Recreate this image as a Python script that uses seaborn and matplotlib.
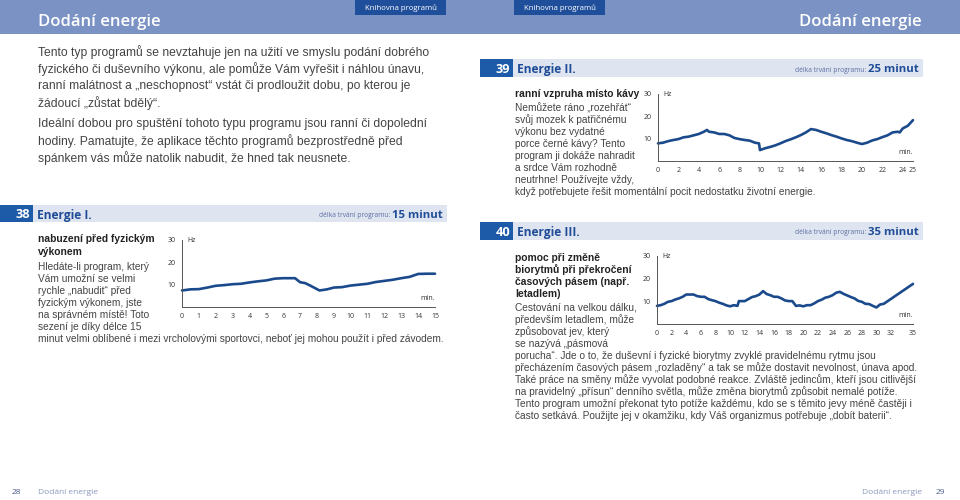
import pandas as pd
import seaborn as sns
import matplotlib.pyplot as plt
from matplotlib.patches import Rectangle
from matplotlib.ticker import MultipleLocator

# ---------------------------------------------------------------- data
# Energie I. (15 minut)
e1_min = [0, 0.5, 1, 1.5, 2, 2.5, 3, 3.5, 4, 4.5, 5, 5.5, 6, 6.7, 7, 7.3, 7.6,
          8.15, 8.6, 9, 9.5, 10, 10.5, 11, 11.5, 12, 12.5, 13, 13.5, 14, 14.5, 15]
e1_hz = [7.4, 7.9, 8.0, 8.7, 9.5, 9.8, 10.2, 10.4, 11.0, 11.5, 11.9, 12.7, 12.9,
         12.9, 11.1, 10.7, 9.6, 7.4, 7.9, 8.7, 8.9, 9.6, 10.0, 10.4, 11.2, 11.7,
         12.2, 12.9, 13.5, 14.8, 14.9, 14.9]
e1_ticks = list(range(0, 16))

# Energie II. (25 minut)
e2_min = [0, 0.5, 1, 1.5, 2, 2.5, 3, 3.5, 4, 4.5, 4.8, 5, 5.5, 6, 6.5, 7, 7.5, 8,
          8.5, 9, 9.5, 9.9, 10, 10.5, 11, 11.5, 12, 12.5, 13, 13.5, 14, 14.5, 15,
          15.5, 16, 16.5, 17, 17.5, 18, 18.5, 19, 19.5, 20, 20.5, 21, 21.5, 22,
          22.5, 23, 23.5, 23.7, 24, 24.5, 25]
e2_hz = [7.9, 8.2, 8.9, 9.4, 9.8, 10.6, 10.9, 11.5, 12.1, 13.1, 13.9, 13.1, 12.8,
         12.1, 12.1, 11.5, 10.3, 9.8, 9.4, 9.1, 8.2, 7.9, 4.9, 5.7, 6.3, 7.0, 7.9,
         8.9, 9.7, 10.6, 11.6, 12.8, 14.3, 13.9, 13.1, 12.4, 11.6, 10.9, 10.1, 9.4,
         8.9, 8.2, 7.6, 8.2, 9.2, 9.8, 10.7, 11.5, 12.8, 13.1, 12.8, 14.6, 15.8, 18.3]
e2_ticks = [0, 2, 4, 6, 8, 10, 12, 14, 16, 18, 20, 22, 24, 25]

# Energie III. (35 minut)
e3_min = [0, 0.5, 1, 1.5, 2, 2.5, 3, 3.5, 4, 5, 5.5, 6, 6.5, 7, 7.5, 8, 8.5, 9,
          9.5, 10, 10.5, 11, 11.2, 12, 12.5, 13, 13.5, 14, 14.5, 15, 15.5, 16,
          16.5, 17, 17.5, 18, 18.5, 19, 19.5, 20, 20.5, 21, 21.5, 22, 22.5, 23,
          23.5, 24, 24.5, 25, 25.5, 26, 26.5, 27, 27.5, 28, 28.5, 29, 29.5, 30,
          30.5, 31, 35]
e3_hz = [8.0, 8.3, 8.9, 9.8, 10.1, 10.8, 11.3, 12.0, 13.0, 13.0, 12.3, 12.0, 12.0,
         11.0, 10.5, 10.1, 9.4, 8.9, 8.2, 7.8, 8.3, 8.0, 10.1, 10.1, 11.0, 11.9,
         12.3, 13.0, 14.5, 13.2, 12.7, 12.0, 12.0, 11.3, 10.4, 10.1, 10.1, 8.0, 8.2,
         7.8, 8.3, 8.3, 9.1, 10.1, 10.7, 11.6, 12.0, 12.7, 13.8, 14.2, 13.3, 12.6,
         11.9, 11.3, 10.2, 9.8, 8.9, 8.8, 8.0, 7.3, 8.6, 8.9, 17.7]
e3_ticks = [0, 2, 4, 6, 8, 10, 12, 14, 16, 18, 20, 22, 24, 26, 28, 30, 32, 35]

intro_lines = [
    "Tento typ programů se nevztahuje jen na užití ve smyslu podání dobrého",
    "fyzického či duševního výkonu, ale pomůže Vám vyřešit i náhlou únavu,",
    "ranní malátnost a „neschopnost“ vstát či prodloužit dobu, po kterou je",
    "žádoucí „zůstat bdělý“.",
    "Ideální dobou pro spuštění tohoto typu programu jsou ranní či dopolední",
    "hodiny. Pamatujte, že aplikace těchto programů bezprostředně před",
    "spánkem vás může natolik nabudit, že hned tak neusnete.",
]
s38_head = ["nabuzení před fyzickým", "výkonem"]
s38_body = [
    "Hledáte-li program, který",
    "Vám umožní se velmi",
    "rychle „nabudit“ před",
    "fyzickým výkonem, jste",
    "na správném místě! Toto",
    "sezení je díky délce 15",
    "minut velmi oblíbené i mezi vrcholovými sportovci, neboť jej mohou použít i před závodem.",
]
s39_head = ["ranní vzpruha místo kávy"]
s39_body = [
    "Nemůžete ráno „rozehřát“",
    "svůj mozek k patřičnému",
    "výkonu bez vydatné",
    "porce černé kávy? Tento",
    "program ji dokáže nahradit",
    "a srdce Vám rozhodně",
    "neutrhne! Používejte vždy,",
    "když potřebujete řešit momentální pocit nedostatku životní energie.",
]
s40_head = ["pomoc při změně", "biorytmů při překročení", "časových pásem (např.", "letadlem)"]
s40_body = [
    "Cestování na velkou dálku,",
    "především letadlem, může",
    "způsobovat jev, který",
    "se nazývá „pásmová",
    "porucha“. Jde o to, že duševní i fyzické biorytmy zvyklé pravidelnému rytmu jsou",
    "přecházením časových pásem „rozladěny“ a tak se může dostavit nevolnost, únava apod.",
    "Také práce na směny může vyvolat podobné reakce. Zvláště jedincům, kteří jsou citlivější",
    "na pravidelný „přísun“ denního světla, může změna biorytmů způsobit nemalé potíže.",
    "Tento program umožní překonat tyto potíže každému, kdo se s těmito jevy méně častěji i",
    "často setkává. Použijte jej v okamžiku, kdy Váš organizmus potřebuje „dobít baterii“.",
]

# ---------------------------------------------------------------- style
HEADER = "#7b93c4"
TAB = "#1f4f9b"
BAR = "#dfe4f1"
NUMBOX = "#1d5aa8"
BLUE = "#1f4c96"
LINE = "#1b4a8c"
TXT = "#444444"

sns.set_style("white")
plt.rcParams['font.family'] = ['Liberation Sans', 'DejaVu Sans']
HEAD_FONT = ['Open Sans', 'DejaVu Sans']

fig = plt.figure(figsize=(9.6, 5), dpi=100)
bg = fig.add_axes([0, 0, 1, 1])
bg.set_xlim(0, 960)
bg.set_ylim(500, 0)
bg.axis('off')

# header band and tabs
bg.add_patch(Rectangle((0, 0), 960, 34, color=HEADER, lw=0))
bg.text(38, 20, "Dodání energie", color="white", fontsize=12, fontweight='semibold',
        family=HEAD_FONT, va='center_baseline')
bg.text(922, 20, "Dodání energie", color="white", fontsize=12, fontweight='semibold',
        family=HEAD_FONT, va='center_baseline', ha='right')
for x0 in (355, 514):
    bg.add_patch(Rectangle((x0, 0), 91, 15, color=TAB, lw=0))
    bg.text(x0 + 45.5, 7.5, "Knihovna programů", color="white", fontsize=5.6,
            family=HEAD_FONT, ha='center', va='center_baseline')


def lines(x, y0, step, rows, size, weight='normal', color=TXT):
    for i, row in enumerate(rows):
        bg.text(x, y0 + i * step, row, fontsize=size, fontweight=weight,
                color=color, va='center_baseline')


def section_bar(x0, x1, y0, y1, num, title, minutes):
    bg.add_patch(Rectangle((x0, y0), x1 - x0, y1 - y0, color=BAR, lw=0))
    bg.add_patch(Rectangle((x0, y0), 33, y1 - y0, color=NUMBOX, lw=0))
    yc = (y0 + y1) / 2
    bg.text(x0 + 30, yc, num, color="white", fontsize=9.2, fontweight='bold',
            family=HEAD_FONT, ha='right', va='center_baseline')
    bg.text(x0 + 37, yc, title, color=BLUE, fontsize=8.6, fontweight='bold',
            family=HEAD_FONT, va='center_baseline')
    bg.text(x1 - 4, yc, f"{minutes} minut", color=BLUE, fontsize=8.2, fontweight='bold',
            family=HEAD_FONT, ha='right', va='center_baseline')
    bg.text(x1 - 57, yc + 1, "délka trvání programu:", color="#5a6fa0", fontsize=4.8,
            family=HEAD_FONT, ha='right', va='center_baseline')


def chart(left, right, top, bottom, xs, ys, xmax, ticks):
    ax = fig.add_axes([left / 960, 1 - bottom / 500, (right - left) / 960, (bottom - top) / 500])
    df = pd.DataFrame({'min': xs, 'hz': ys})
    sns.lineplot(data=df, x='min', y='hz', ax=ax, color=LINE, lw=1.9, clip_on=False)
    ax.set_xlim(0, xmax)
    ax.set_ylim(0, 30)
    ax.set_xticks(ticks)
    ax.set_yticks([10, 20, 30])
    ax.xaxis.set_minor_locator(MultipleLocator(0.5 if xmax <= 15 else 1))
    ax.yaxis.set_minor_locator(MultipleLocator(2.5))
    ax.tick_params(axis='x', which='major', direction='in', length=3, width=0.6,
                   colors='#555555', labelsize=5, labelcolor='#333333', pad=4)
    ax.tick_params(axis='x', which='minor', direction='in', length=1.8, width=0.5, colors='#555555')
    ax.tick_params(axis='y', which='major', direction='out', length=2.5, width=0.6,
                   colors='#555555', labelsize=5, labelcolor='#333333', pad=2)
    ax.tick_params(axis='y', which='minor', direction='out', length=1.5, width=0.5, colors='#555555')
    for lab in ax.get_xticklabels() + ax.get_yticklabels():
        lab.set_family(HEAD_FONT)
    sns.despine(ax=ax)
    for sp in ('left', 'bottom'):
        ax.spines[sp].set_color('#555555')
        ax.spines[sp].set_linewidth(0.7)
    ax.set_xlabel('')
    ax.set_ylabel('')
    ax.patch.set_alpha(0)
    ax.text(0.02, 1.0, "Hz", transform=ax.transAxes, fontsize=5, color='#333333',
            family=HEAD_FONT, va='center')
    ax.text(1.0, 0.08, "min.", transform=ax.transAxes, fontsize=5, color='#333333',
            family=HEAD_FONT, ha='right', va='bottom')
    return ax


# left page
lines(38, 51, 17, intro_lines[:4], 8.7)
lines(38, 123, 17, intro_lines[4:], 8.7)
section_bar(0, 447, 205, 222, "38", "Energie I.", 15)
lines(38, 238, 13, s38_head, 7.4, 'bold', '#222222')
lines(38, 266, 12, s38_body, 7.3)
chart(182, 435, 240, 307, e1_min, e1_hz, 15, e1_ticks)

# right page
section_bar(480, 923, 59, 77, "39", "Energie II.", 25)
lines(515, 93, 13, s39_head, 7.4, 'bold', '#222222')
lines(515, 107, 12, s39_body, 7.3)
chart(658, 913, 94, 161, e2_min, e2_hz, 25, e2_ticks)

section_bar(480, 923, 222, 240, "40", "Energie III.", 35)
lines(515, 257, 12, s40_head, 7.4, 'bold', '#222222')
lines(515, 307, 12, s40_body, 7.3)
chart(657, 913, 256, 324, e3_min, e3_hz, 35, e3_ticks)

# footer
bg.text(12, 492, "28", fontsize=6, color="#4a5a8a", family=HEAD_FONT, va='center_baseline')
bg.text(38, 492, "Dodání energie", fontsize=6, color="#8a98bd", family=HEAD_FONT, va='center_baseline')
bg.text(922, 492, "Dodání energie", fontsize=6, color="#8a98bd", family=HEAD_FONT,
        ha='right', va='center_baseline')
bg.text(936, 492, "29", fontsize=6, color="#4a5a8a", family=HEAD_FONT, va='center_baseline')

fig.savefig("out.png", dpi=100)
